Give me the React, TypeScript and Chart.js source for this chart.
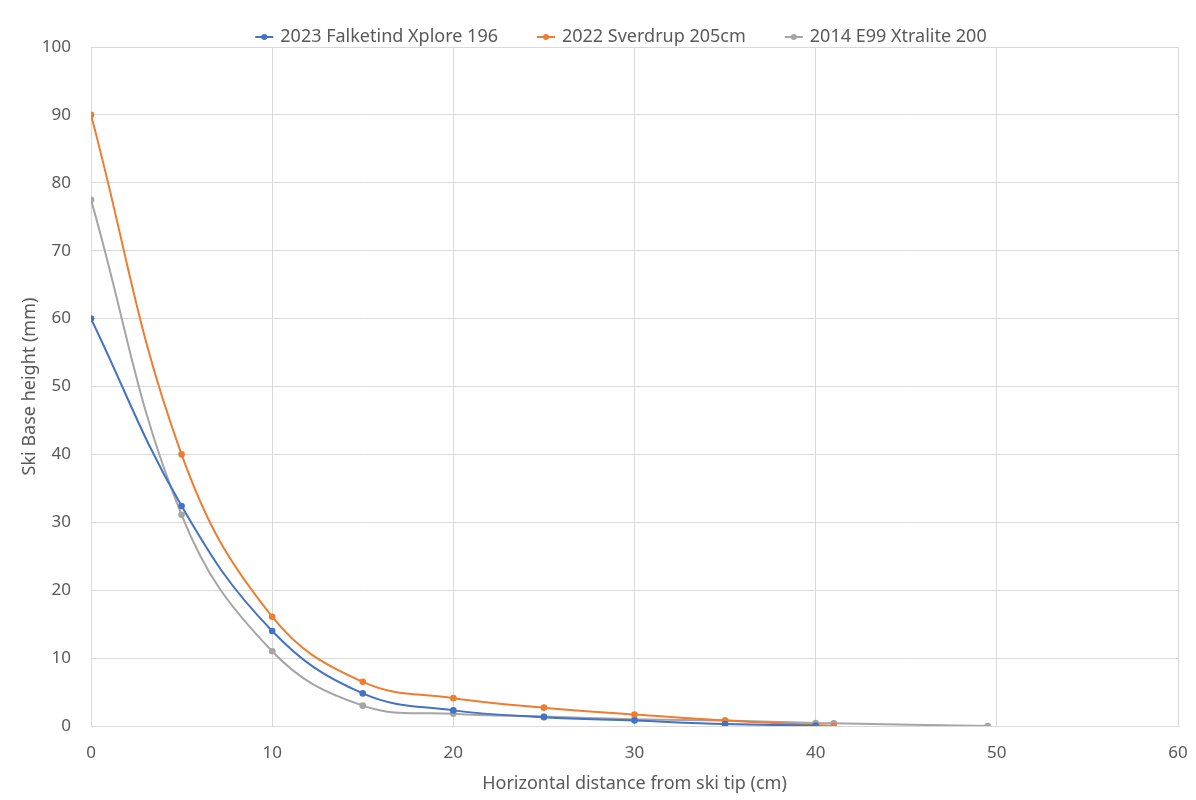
import React, { useEffect, useRef } from "react";
import { Chart, registerables } from "chart.js";

Chart.register(...registerables);

const seriesNames = ["2023 Falketind Xplore 196", "2022 Sverdrup 205cm", "2014 E99 Xtralite 200"];
const colors = ["#4472C4", "#ED7D31", "#A5A5A5"];

const falketindX = [0, 5, 10, 15, 20, 25, 30, 35, 40];
const falketindY = [60, 32.4, 14.0, 4.8, 2.3, 1.3, 0.8, 0.3, 0.05];

const sverdrupX = [0, 5, 10, 15, 20, 25, 30, 35, 41];
const sverdrupY = [90, 40, 16.1, 6.5, 4.1, 2.7, 1.7, 0.8, 0];

const xtraliteX = [0, 5, 10, 15, 20, 25, 30, 35, 40, 41, 49.5];
const xtraliteY = [77.5, 31.1, 11.0, 3.0, 1.8, 1.4, 1.0, 0.8, 0.45, 0.4, 0];

const xTicks = [0, 10, 20, 30, 40, 50, 60];
const yTicks = [0, 10, 20, 30, 40, 50, 60, 70, 80, 90, 100];

const xTitle = "Horizontal distance from ski tip (cm)";
const yTitle = "Ski Base height (mm)";

const FONT = "'Noto Sans', sans-serif";
const TEXT = "#595959";

function pts(xs: number[], ys: number[]) {
  return xs.map((x, i) => ({ x, y: ys[i] }));
}

// Excel-style legend: short line with a dot, then the series name
const topLegend = {
  id: "topLegend",
  afterDraw(chart: any) {
    const ctx = chart.ctx;
    const fontSize = 18;
    const lineW = 18;
    const textGap = 7;
    const itemGap = 39;
    const cy = 37;
    ctx.save();
    ctx.font = `${fontSize}px ${FONT}`;
    const widths = chart.data.datasets.map((ds: any) => ctx.measureText(ds.label).width);
    const total =
      widths.reduce((a: number, w: number) => a + lineW + textGap + w, 0) + itemGap * (widths.length - 1);
    let x = 621 - total / 2;
    chart.data.datasets.forEach((ds: any, i: number) => {
      const c = ds.borderColor;
      ctx.strokeStyle = c;
      ctx.lineWidth = 2;
      ctx.beginPath();
      ctx.moveTo(x, cy);
      ctx.lineTo(x + lineW, cy);
      ctx.stroke();
      ctx.fillStyle = c;
      ctx.beginPath();
      ctx.arc(x + lineW / 2, cy, 3, 0, Math.PI * 2);
      ctx.fill();
      ctx.fillStyle = TEXT;
      ctx.textBaseline = "middle";
      ctx.textAlign = "left";
      ctx.fillText(ds.label, x + lineW + textGap, cy);
      x += lineW + textGap + widths[i] + itemGap;
    });
    ctx.restore();
  },
};

export default function App() {
  const ref = useRef<HTMLCanvasElement>(null);
  useEffect(() => {
    document.body.style.margin = "0";
    const all = [pts(falketindX, falketindY), pts(sverdrupX, sverdrupY), pts(xtraliteX, xtraliteY)];
    const chart = new Chart(ref.current!, {
      type: "scatter",
      data: {
        datasets: all.map((d, i) => ({
          label: seriesNames[i],
          data: d,
          showLine: true,
          borderColor: colors[i],
          backgroundColor: colors[i],
          borderWidth: 2,
          pointRadius: 3.3,
          pointHoverRadius: 3.3,
          pointBorderWidth: 0,
          tension: 0.4,
          pointStyle: "circle",
        })),
      },
      options: {
        animation: false,
        responsive: false,
        layout: { padding: { left: 0, right: 18, top: 47, bottom: 0 } },
        plugins: {
          tooltip: { enabled: false },
          legend: { display: false },
        },
        scales: {
          x: {
            type: "linear",
            min: 0,
            max: 60,
            afterBuildTicks: (s: any) => {
              s.ticks = xTicks.map((v) => ({ value: v }));
            },
            afterFit: (s: any) => {
              s.height = 74;
              s.paddingRight = 0;
              s.paddingLeft = 0;
            },
            grid: { color: "#D9D9D9", drawTicks: false },
            border: { color: "#D9D9D9" },
            ticks: { color: TEXT, font: { family: FONT, size: 17 }, padding: 17 },
            title: {
              display: true,
              text: xTitle,
              color: TEXT,
              font: { family: FONT, size: 18 },
              padding: { top: 0, bottom: 5 },
            },
          },
          y: {
            type: "linear",
            min: 0,
            max: 100,
            afterBuildTicks: (s: any) => {
              s.ticks = yTicks.map((v) => ({ value: v }));
            },
            afterFit: (s: any) => {
              s.width = 91;
            },
            grid: { color: "#D9D9D9", drawTicks: false },
            border: { color: "#D9D9D9" },
            ticks: { color: TEXT, font: { family: FONT, size: 17 }, padding: 20 },
            title: {
              display: true,
              text: yTitle,
              color: TEXT,
              font: { family: FONT, size: 18 },
              padding: { top: 19, bottom: 0 },
            },
          },
        },
      },
      plugins: [topLegend],
    });
    return () => chart.destroy();
  }, []);
  return (
    <div style={{ position: "absolute", left: 0, top: 0, width: 1196, height: 800, background: "#fff" }}>
      <canvas ref={ref} width={1196} height={800} style={{ width: 1196, height: 800 }} />
    </div>
  );
}
